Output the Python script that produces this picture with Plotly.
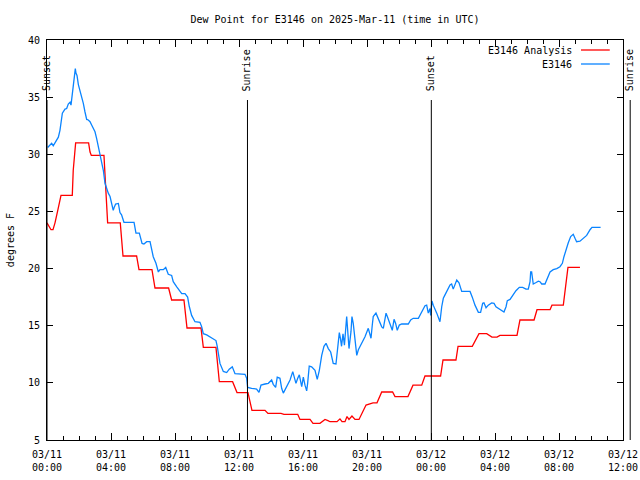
import pandas as pd
import plotly.graph_objects as go

BASE = pd.Timestamp("2025-03-11 00:00")

# Hours since 2025-03-11 00:00 UTC and dew point (deg F)
analysis_hours = [0.0, 0.125, 0.25, 0.375, 0.5, 0.69, 0.875, 1.58, 1.64, 1.79, 2.6, 2.69, 2.77, 3.56, 3.67,
                  3.79, 4.58, 4.75, 5.6, 5.75, 6.56, 6.75, 7.6, 7.79, 8.56, 8.75, 9.625, 9.77, 10.56, 10.77,
                  11.6, 11.875, 12.56, 12.81, 13.625, 13.81, 14.625, 14.81, 15.67, 15.81, 16.44, 16.625,
                  17.06, 17.375, 17.56, 17.69, 18.125, 18.31, 18.44, 18.625, 18.75, 18.875, 19.06, 19.25,
                  19.5, 19.94, 20.375, 20.625, 20.92, 21.6, 21.75, 22.56, 22.875, 23.42, 23.625, 24.6,
                  24.75, 25.56, 25.69, 26.58, 27.0, 27.48, 27.81, 28.125, 28.31, 29.375, 29.56, 30.44,
                  30.625, 31.44, 31.56, 32.27, 32.56, 33.31]
analysis_vals = [24.0, 23.7, 23.4, 23.4, 24.0, 25.2, 26.4, 26.4, 28.6, 31.0, 31.0, 30.2, 29.9, 29.9, 27.0,
                 24.0, 24.0, 21.1, 21.1, 19.9, 19.9, 18.3, 18.3, 17.25, 17.25, 14.8, 14.8, 13.1, 13.1, 10.1,
                 10.1, 9.15, 9.15, 7.6, 7.6, 7.33, 7.33, 7.25, 7.25, 6.8, 6.8, 6.46,
                 6.46, 6.8, 6.7, 6.6, 6.6, 6.85, 6.6, 6.6, 7.05, 6.8, 7.1, 6.8,
                 6.8, 8.06, 8.25, 8.25, 9.2, 9.2, 8.8, 8.8, 9.8, 9.8, 10.6, 10.6,
                 12.0, 12.0, 13.2, 13.2, 14.3, 14.3, 14.0, 14.0, 14.15, 14.15, 15.5, 15.5,
                 16.4, 16.4, 16.8, 16.8, 20.1, 20.1]

obs_hours = [0.04, 0.11, 0.29, 0.39, 0.61, 0.71, 0.81, 0.875, 0.96, 1.125, 1.23, 1.33, 1.44, 1.5, 1.58,
             1.71, 1.77, 1.81, 1.875, 1.96, 2.06, 2.17, 2.27, 2.375, 2.48, 2.58, 2.69, 2.79, 2.89, 3.0,
             3.1, 3.21, 3.31, 3.42, 3.52, 3.625, 3.73, 3.83, 3.94, 4.04, 4.14, 4.21, 4.29, 4.46, 4.56,
             4.66, 4.81, 5.44, 5.56, 5.77, 5.94, 6.06, 6.23, 6.44, 6.54, 6.64, 6.81, 6.96, 7.06, 7.27,
             7.42, 7.58, 7.79, 7.89, 8.11, 8.27, 8.42, 8.625, 8.79, 8.89, 9.04, 9.25, 9.56, 9.67, 9.77,
             9.98, 10.29, 10.56, 10.64, 10.81, 11.02, 11.23, 11.39, 11.58, 11.75, 12.06, 12.375, 12.48,
             12.54, 12.79, 13.1, 13.25, 13.375, 13.625, 13.83, 14.04, 14.14, 14.29, 14.39, 14.56, 14.67,
             14.77, 14.98, 15.19, 15.36, 15.44, 15.56, 15.67, 15.77, 15.92, 16.02, 16.125, 16.23, 16.29,
             16.39, 16.54, 16.75, 16.89, 17.02, 17.17, 17.31, 17.44, 17.58, 17.73, 17.89, 18.06, 18.17,
             18.27, 18.34, 18.41, 18.5, 18.59, 18.73, 18.79, 18.875, 19.0, 19.06, 19.14, 19.25, 19.36,
             19.46, 19.67, 19.875, 20.08, 20.19, 20.25, 20.33, 20.39, 20.56, 20.71, 20.92, 21.02, 21.125,
             21.19, 21.27, 21.44, 21.58, 21.69, 21.79, 21.89, 22.02, 22.17, 22.58, 22.73, 22.89, 23.21,
             23.42, 23.625, 23.73, 23.83, 23.94, 23.98, 24.06, 24.14, 24.36, 24.56, 24.67, 24.77, 24.875,
             25.02, 25.19, 25.29, 25.39, 25.61, 25.75, 25.92, 26.44, 26.58, 26.75, 26.96, 27.1, 27.23,
             27.31, 27.44, 27.58, 27.79, 27.94, 28.06, 28.31, 28.56, 28.69, 28.77, 28.94, 29.14, 29.31,
             29.52, 29.73, 29.94, 30.08, 30.19, 30.23, 30.29, 30.39, 30.54, 30.71, 30.81, 30.92, 31.125,
             31.27, 31.44, 31.64, 31.86, 32.06, 32.21, 32.31, 32.44, 32.58, 32.73, 32.89, 33.0, 33.1,
             33.31, 33.52, 33.73, 33.94, 34.06, 34.6]
obs_vals = [30.6, 30.7, 30.96, 30.75, 31.25, 31.5, 32.1, 32.85, 33.6, 33.96, 34.0, 34.4, 34.55, 34.3, 35.3,
            36.9, 37.5, 37.1, 36.9, 36.1, 35.6, 35.0, 34.45, 33.7, 33.05, 33.0, 32.85, 32.56, 32.27, 31.97,
            31.4, 30.7, 30.1, 29.2, 28.6, 27.46, 27.0, 26.6, 26.3, 25.56, 25.1, 25.4, 25.65, 25.7, 24.9,
            24.7, 24.05, 24.05, 23.1, 23.1, 22.2, 22.15, 22.35, 22.35, 21.5, 21.04, 20.46, 19.7, 19.9, 19.9,
            20.1, 19.5, 19.4, 18.85, 18.4, 18.1, 17.8, 17.8, 17.5, 16.7, 15.9, 15.35, 15.3, 14.9, 14.3,
            14.2, 13.95, 13.7, 13.2, 11.7, 11.0, 10.9, 11.2, 11.4, 10.8, 10.75, 10.75, 10.4,
            9.6, 9.52, 9.46, 9.17, 9.8, 9.9, 9.96, 10.25, 9.87, 9.6, 10.5, 10.4, 9.5,
            9.1, 9.66, 10.25, 10.98, 10.54, 9.96, 10.4, 10.7, 9.66, 10.5, 9.8, 9.3, 9.96,
            11.47, 11.4, 11.1, 10.3, 11.1, 12.4, 13.2, 13.46, 13.0, 12.7, 11.7, 11.65, 13.2,
            14.4, 13.9, 13.2, 14.3, 13.3, 15.8, 14.6, 13.0, 14.5, 15.8, 15.2, 13.6, 12.4,
            12.9, 13.46, 14.04, 14.77, 14.3, 13.9, 15.06, 15.8, 16.1, 15.65, 14.9, 14.77, 15.5,
            16.1, 15.8, 15.06, 14.6, 15.56, 15.2, 14.6, 15.06, 15.15, 15.15, 15.5, 15.65, 15.65,
            16.2, 16.75, 16.8, 16.1, 16.5, 15.9, 17.16, 16.8, 16.1, 15.35, 16.66, 17.4, 17.7,
            18.1, 18.56, 18.65, 18.2, 19.0, 18.76, 18.0, 18.0, 17.5, 16.8, 16.17, 16.17, 16.96,
            17.0, 16.57, 16.8, 17.0, 16.96, 16.66, 16.46, 16.2, 16.66, 17.19, 17.3, 17.7, 18.06,
            18.36, 18.36, 18.2, 18.2, 18.85, 19.7, 19.7, 18.65, 18.76, 18.9, 18.85, 18.65, 18.65,
            19.15, 19.7, 19.9, 20.0, 20.16, 20.46, 21.04, 21.7, 22.26, 22.8, 23.0, 22.65, 22.35,
            22.4, 22.65, 22.9, 23.4, 23.6, 23.6]

# Sun events (hours since 2025-03-11 00:00 UTC)
sun_labels = ["Sunset", "Sunrise", "Sunset", "Sunrise"]
sun_hours = [0.0, 12.53, 24.02, 36.45]

tick_hours = [0, 4, 8, 12, 16, 20, 24, 28, 32, 36]
tick_text = ["03/11<br>00:00", "03/11<br>04:00", "03/11<br>08:00", "03/11<br>12:00", "03/11<br>16:00",
             "03/11<br>20:00", "03/12<br>00:00", "03/12<br>04:00", "03/12<br>08:00", "03/12<br>12:00"]

RANGE_H = 36.0
FONT = "DejaVu Sans Mono"
RED = "#ff0000"
BLUE = "#0a84ff"

W, H = 640, 480


def to_time(hours):
    return [BASE + pd.Timedelta(hours=h) for h in hours]


fig = go.Figure()
fig.add_trace(go.Scatter(x=to_time(analysis_hours), y=analysis_vals, mode="lines",
                         name="E3146 Analysis", line=dict(color=RED, width=1.3), showlegend=False))
fig.add_trace(go.Scatter(x=to_time(obs_hours), y=obs_vals, mode="lines",
                         name="E3146", line=dict(color=BLUE, width=1.3), showlegend=False))

line_top = 0.85
for lab, h in zip(sun_labels, sun_hours):
    px = h / RANGE_H
    fig.add_shape(type="line", xref="paper", yref="paper", x0=px, x1=px, y0=0, y1=line_top,
                  line=dict(color="black", width=1))
    fig.add_annotation(xref="paper", yref="paper", x=px, y=0.8675, text=lab, textangle=-90,
                       showarrow=False, xanchor="center", yanchor="bottom",
                       font=dict(family=FONT, size=10, color="black"))

# legend (text left of sample, gnuplot style)
leg = [("E3146 Analysis", RED, 0.975), ("E3146", BLUE, 0.94)]
for txt, col, yy in leg:
    fig.add_annotation(xref="paper", yref="paper", x=0.915, y=yy, text=txt, showarrow=False,
                       xanchor="right", yanchor="middle", font=dict(family=FONT, size=10, color="black"))
    fig.add_shape(type="line", xref="paper", yref="paper", x0=0.927, x1=0.977, y0=yy, y1=yy,
                  line=dict(color=col, width=1.3))

fig.add_annotation(xref="paper", yref="paper", x=-0.064, y=0.5, text="degrees F", textangle=-90,
                   showarrow=False, xanchor="center", yanchor="middle",
                   font=dict(family=FONT, size=10, color="black"))

fig.update_layout(
    width=W, height=H,
    margin=dict(l=47, r=17, t=40, b=40, pad=0, autoexpand=False),
    paper_bgcolor="white", plot_bgcolor="white",
    font=dict(family=FONT, size=10, color="black"),
    title=dict(text="Dew Point for E3146 on 2025-Mar-11 (time in UTC)", x=0.5, xref="paper",
               y=1 - 19 / H, yanchor="middle", font=dict(family=FONT, size=10, color="black")),
    showlegend=False,
)
fig.update_xaxes(
    type="date", automargin=False,
    range=[BASE, BASE + pd.Timedelta(hours=RANGE_H)],
    tickvals=to_time(tick_hours), ticktext=tick_text,
    ticks="inside", ticklen=7, tickcolor="black", tickwidth=1,
    minor=dict(dtick=3600000, tick0=BASE, ticks="inside", ticklen=4, tickcolor="black", showgrid=False),
    showline=True, linecolor="black", linewidth=1, mirror="ticks",
    showgrid=False, zeroline=False,
    tickfont=dict(family=FONT, size=10, color="black"),
    ticklabelstandoff=5,
)
fig.update_yaxes(
    automargin=False,
    range=[5, 40], tickvals=[5, 10, 15, 20, 25, 30, 35, 40],
    ticks="inside", ticklen=6, tickcolor="black", tickwidth=1,
    showline=True, linecolor="black", linewidth=1, mirror="ticks",
    showgrid=False, zeroline=False,
    tickfont=dict(family=FONT, size=10, color="black"),
    ticklabelstandoff=4,
)

fig.write_html(
    "out.html",
    config={"displayModeBar": False, "staticPlot": True},
    post_script="document.body.style.margin='0';document.body.style.overflow='hidden';",
)
